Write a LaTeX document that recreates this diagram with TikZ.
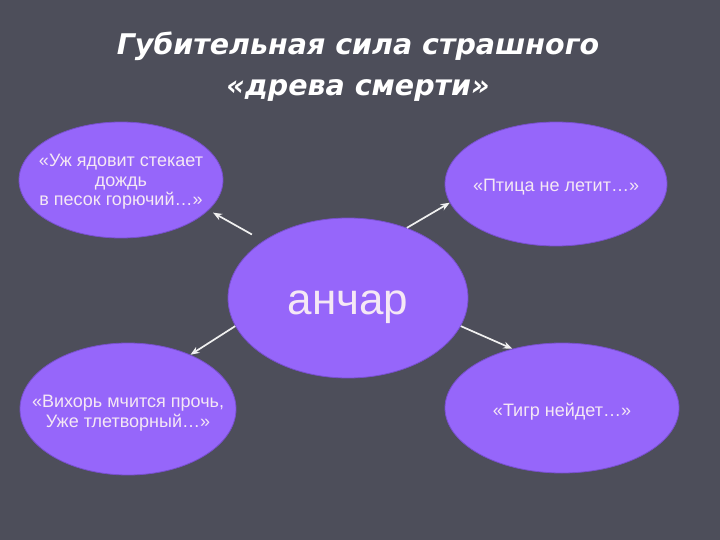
\documentclass[tikz,border=0pt]{standalone}
\usepackage{fontspec}
\setmainfont{Liberation Sans}
\newfontfamily\titlefont{DejaVu Sans}
\usetikzlibrary{shapes.geometric,arrows.meta}
\definecolor{bgc}{RGB}{77,78,90}
\definecolor{ovalc}{RGB}{150,102,250}
\definecolor{ovaledge}{RGB}{120,80,205}
\definecolor{txtc}{RGB}{245,232,245}
\newcommand\ovtext[2][0pt]{\raisebox{#1}[0pt][0pt]{\makebox[0pt]{\begin{tabular}{@{}c@{}}#2\end{tabular}}}}
\tikzset{
  oval/.style={ellipse, fill=ovalc, draw=ovaledge, line width=0.8pt, inner sep=0pt,
    text=txtc, font=\fontsize{18}{20}\selectfont},
  arr/.style={draw=white!94!black, line width=1.7pt, -{Stealth[length=9pt,width=7pt]}},
  ttl/.style={text=white, align=center, font=\titlefont\bfseries\itshape\fontsize{28.5}{41}\selectfont}
}
\begin{document}
\begin{tikzpicture}[x=1pt,y=-1pt]
\fill[bgc] (0,0) rectangle (720,540);
\useasboundingbox (0,0) rectangle (720,540);
\node[ttl] (title) at (358,67) {Губительная сила страшного\\«древа смерти»};
\node[oval, minimum width=204pt, minimum height=116pt] (tl) at (121,180) {\fontsize{18}{19.5}\selectfont\ovtext[-6.5pt]{«Уж ядовит стекает\\дождь\\в песок горючий…»}};
\node[oval, minimum width=222pt, minimum height=124pt] (tr) at (556,184) {\ovtext[-8pt]{«Птица не летит…»}};
\node[oval, minimum width=240pt, minimum height=160pt] (c) at (348,298) {\fontsize{44}{50}\selectfont\raisebox{-17pt}[0pt][0pt]{анчар}};
\node[oval, minimum width=216pt, minimum height=132pt] (bl) at (128,409) {\ovtext[-9pt]{«Вихорь мчится прочь,\\Уже тлетворный…»}};
\node[oval, minimum width=234pt, minimum height=130pt] (br) at (562,408) {\ovtext[-9pt]{«Тигр нейдет…»}};
\draw[arr, shorten <=13pt, shorten >=5pt] (c.146) -- (tl.-19.5);
\draw[arr] (c.50) -- (tr.190);
\draw[arr] (c.194) -- (bl.41);
\draw[arr] (c.-14) -- (br.130);
\end{tikzpicture}
\end{document}
